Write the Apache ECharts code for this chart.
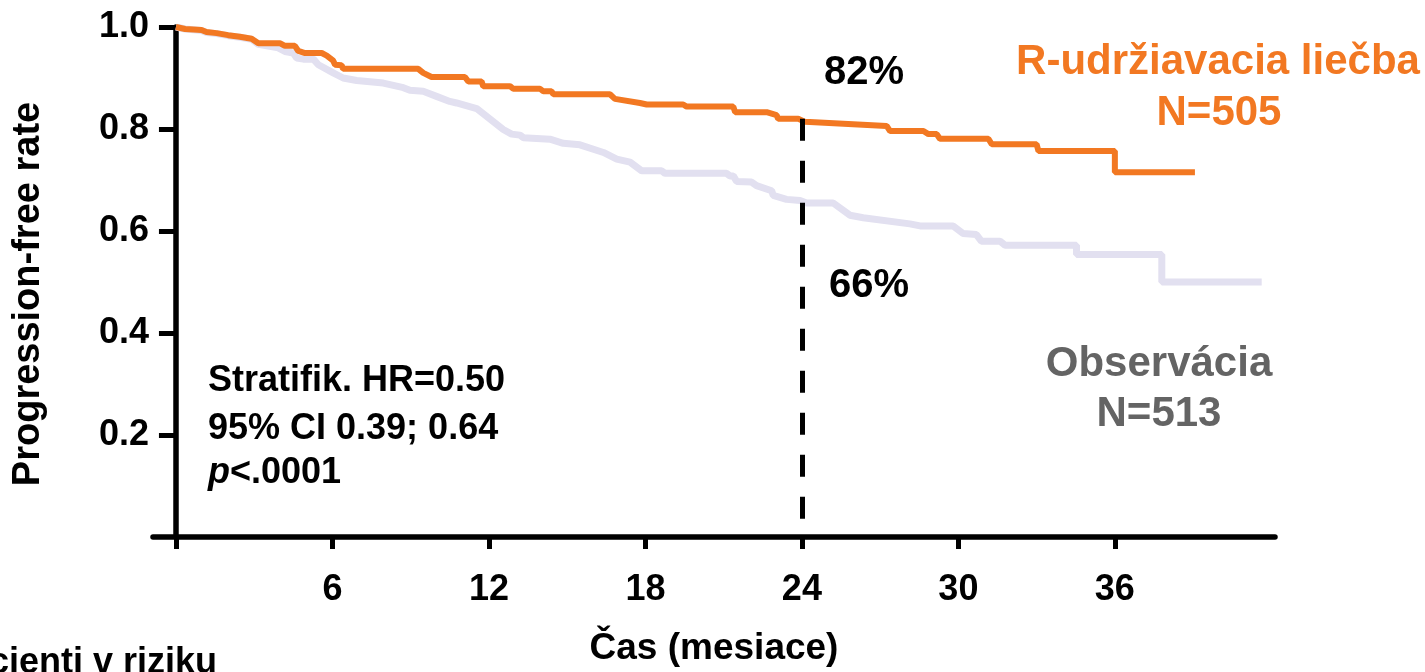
<!DOCTYPE html>
<html>
<head>
    <meta charset="utf-8">
    <title>PFS</title>
    <script src="https://cdn.jsdelivr.net/npm/echarts@6/dist/echarts.min.js"></script>
    <style>
        html, body { margin: 0; padding: 0; background: #fff; }
        #main { width: 1425px; height: 672px; }
    </style>
</head>
<body>
    <div id="main"></div>
    <script>
        // x-axis ticks (months) and y-axis ticks
        var monthTicks = [0, 6, 12, 18, 24, 30, 36];
        var monthLabels = [6, 12, 18, 24, 30, 36];
        var rateTicks = [0.2, 0.4, 0.6, 0.8, 1.0];

        // R-udrziavacia liecba
        var maintMonths = [0, 0.35, 0.98, 1.17, 1.56, 2.0, 2.45, 2.9, 3.16, 4.0, 4.18, 4.56, 4.69, 4.95, 5.59, 5.78, 6.03, 6.1, 6.35, 6.41,
            9.29, 9.48, 9.8, 11.08, 11.21, 11.72, 11.78, 12.81, 12.93, 13.96, 14.08, 14.4, 14.47, 16.64, 16.83, 17.79, 18.05, 19.45, 19.58,
            21.37, 21.44, 22.65, 23.03, 23.09, 23.86, 24.12, 27.25, 27.38, 28.66, 28.85, 29.17, 29.29, 31.15, 31.28, 33.0, 33.07, 36.0, 36.0, 39.07];
        var maintRate = [1.0, 0.996, 0.994, 0.990, 0.988, 0.984, 0.981, 0.977, 0.968, 0.968, 0.963, 0.963, 0.953, 0.949, 0.949, 0.944, 0.934, 0.926, 0.925, 0.918,
            0.918, 0.910, 0.902, 0.902, 0.893, 0.893, 0.884, 0.884, 0.879, 0.879, 0.874, 0.874, 0.868, 0.868, 0.859, 0.851, 0.848, 0.848, 0.844,
            0.844, 0.833, 0.833, 0.827, 0.820, 0.820, 0.814, 0.806, 0.796, 0.796, 0.790, 0.790, 0.781, 0.781, 0.770, 0.770, 0.757, 0.757, 0.715, 0.715];

        // Observacia
        var obsMonths = [0, 0.35, 0.98, 1.17, 1.56, 2.0, 2.45, 2.9, 3.16, 3.92, 4.18, 4.5, 4.63, 4.88, 5.27, 5.46, 6.03, 6.41, 6.93, 7.95,
            8.72, 8.97, 9.48, 9.99, 10.5, 10.76, 11.53, 12.55, 12.87, 13.19, 13.32, 14.34, 14.85, 15.49, 16.39, 16.9, 17.41, 17.86, 18.62, 18.75,
            21.11, 21.24, 21.37, 21.5, 22.07, 22.26, 22.84, 22.9, 23.41, 23.93, 24.18, 25.2, 25.84, 26.35, 28.14, 28.53, 29.8, 30.18, 30.69, 30.88,
            31.6, 31.79, 34.53, 34.53, 37.8, 37.8, 41.63];
        var obsRate = [1.0, 0.996, 0.993, 0.989, 0.987, 0.983, 0.980, 0.976, 0.966, 0.959, 0.952, 0.949, 0.939, 0.937, 0.937, 0.926, 0.910, 0.900, 0.895, 0.890,
            0.881, 0.876, 0.874, 0.864, 0.854, 0.851, 0.840, 0.799, 0.790, 0.788, 0.783, 0.780, 0.772, 0.769, 0.754, 0.741, 0.735, 0.718, 0.718, 0.713,
            0.713, 0.708, 0.708, 0.697, 0.696, 0.689, 0.679, 0.670, 0.662, 0.660, 0.655, 0.655, 0.631, 0.626, 0.614, 0.610, 0.610, 0.595, 0.593, 0.580,
            0.580, 0.572, 0.572, 0.554, 0.554, 0.50, 0.50];

        var landmarkMonth = 24;
        var landmarkRate = 0.82;

        var FONT = '"Liberation Sans", Arial, Helvetica, sans-serif';
        var ORANGE = '#F27822';
        var LAVENDER = '#E2E0F0';

        function pairs(xs, ys) {
            var out = [];
            for (var i = 0; i < xs.length; i++) {
                out.push([xs[i], ys[i]]);
            }
            return out;
        }

        function label(text, x, y, size, color, align) {
            return {
                type: 'text', x: x, y: y, silent: true,
                style: {
                    text: text, fill: color, fontFamily: FONT, fontWeight: 'bold', fontSize: size,
                    textAlign: align || 'center', textVerticalAlign: 'middle'
                }
            };
        }

        var chart = echarts.init(document.getElementById('main'));
        chart.setOption({
            animation: false,
            backgroundColor: '#fff',
            grid: { left: 153, right: 150, top: 27, bottom: 131 },
            xAxis: {
                type: 'value', min: -0.88, max: 42.14,
                axisLine: { onZero: true, lineStyle: { color: '#000', width: 5.5 } },
                axisTick: { customValues: monthTicks, length: 12, lineStyle: { color: '#000', width: 5 } },
                axisLabel: { customValues: monthLabels, fontFamily: FONT, fontWeight: 'bold', fontSize: 36, color: '#000', margin: 35 },
                splitLine: { show: false },
                name: 'Čas (mesiace)', nameLocation: 'middle', nameGap: 93,
                nameTextStyle: { fontFamily: FONT, fontWeight: 'bold', fontSize: 37, color: '#000' }
            },
            yAxis: {
                type: 'value', min: 0, max: 1,
                axisLine: { show: true, onZero: true, lineStyle: { color: '#000', width: 5.5 } },
                axisTick: { show: true, customValues: rateTicks, length: 17, lineStyle: { color: '#000', width: 5 } },
                axisLabel: {
                    customValues: rateTicks, fontFamily: FONT, fontWeight: 'bold', fontSize: 36, color: '#000', margin: 4,
                    formatter: function (v) { return v.toFixed(1); }
                },
                splitLine: { show: false }
            },
            series: [{
                name: 'Observácia', type: 'line', symbol: 'none', z: 2,
                lineStyle: { color: LAVENDER, width: 7 },
                data: pairs(obsMonths, obsRate)
            }, {
                name: 'R-udržiavacia liečba', type: 'line', symbol: 'none', z: 3,
                lineStyle: { color: ORANGE, width: 6 },
                data: pairs(maintMonths, maintRate),
                markLine: {
                    silent: true, symbol: 'none', z: 5,
                    label: { show: false },
                    lineStyle: { color: '#000', width: 5, type: [22, 20] },
                    data: [[{ coord: [landmarkMonth, landmarkRate] }, { coord: [landmarkMonth, 0] }]]
                }
            }],
            graphic: [
                {
                    type: 'text', x: 28.5, y: 294, rotation: Math.PI / 2, silent: true,
                    style: {
                        text: 'Progression-free rate', fill: '#000', fontFamily: FONT, fontWeight: 'bold', fontSize: 38,
                        textAlign: 'center', textVerticalAlign: 'middle'
                    }
                },
                label('82%', 864, 73, 40, '#000'),
                label('66%', 869, 286, 40, '#000'),
                label('R-udržiavacia liečba', 1218, 62, 42, ORANGE),
                label('N=505', 1219, 113, 42, ORANGE),
                label('Observácia', 1159, 364, 42, '#646464'),
                label('N=513', 1159, 414, 42, '#646464'),
                label('Stratifik. HR=0.50', 208, 381, 36, '#000', 'left'),
                label('95% CI 0.39; 0.64', 208, 429, 36, '#000', 'left'),
                {
                    type: 'text', x: 208, y: 473, silent: true,
                    style: {
                        text: '{i|p}<.0001', fill: '#000', fontFamily: FONT, fontWeight: 'bold', fontSize: 36,
                        textAlign: 'left', textVerticalAlign: 'middle',
                        rich: { i: { fontStyle: 'italic', fontFamily: FONT, fontWeight: 'bold', fontSize: 36, fill: '#000' } }
                    }
                },
                label('Pacienti v riziku', 217, 663, 36, '#000', 'right')
            ]
        });
    </script>
</body>
</html>
